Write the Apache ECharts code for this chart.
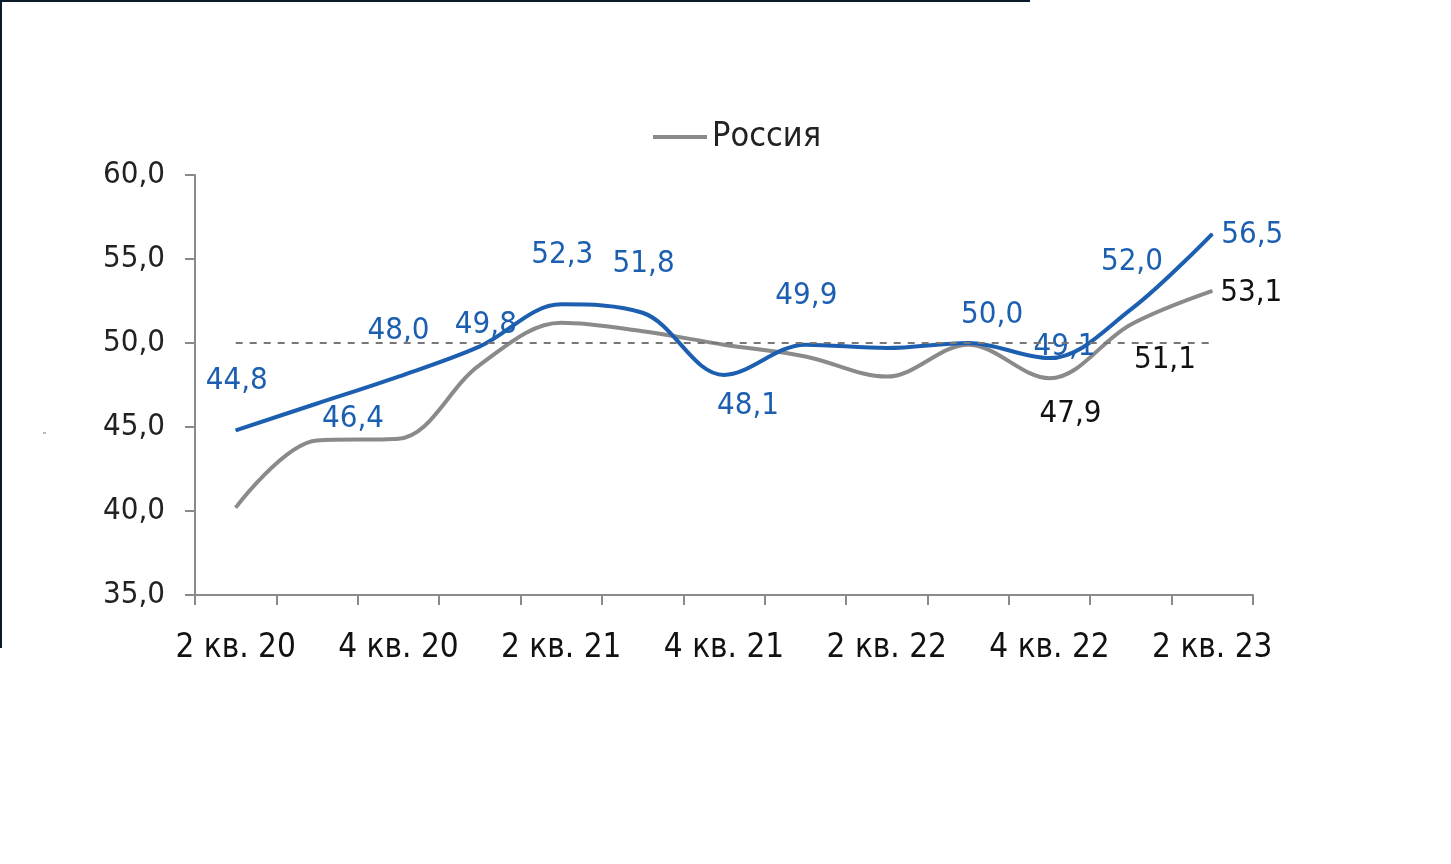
<!DOCTYPE html>
<html>
<head>
<meta charset="utf-8">
<script src="https://cdn.jsdelivr.net/npm/echarts@6/dist/echarts.min.js"></script>
<style>
html,body{margin:0;padding:0;background:#fff;}
#chart{width:1451px;height:864px;}
</style>
</head>
<body>
<div id="chart"></div>
<script>
// ---- data ----
var categories = ['2 кв. 20','3 кв. 20','4 кв. 20','1 кв. 21','2 кв. 21','3 кв. 21','4 кв. 21','1 кв. 22','2 кв. 22','3 кв. 22','4 кв. 22','1 кв. 23','2 кв. 23'];
var regionValues = [44.8, 46.4, 48.0, 49.8, 52.3, 51.8, 48.1, 49.9, 49.7, 50.0, 49.1, 52.0, 56.5];
var russiaValues = [40.2, 44.2, 44.3, 48.7, 51.2, 50.7, 49.9, 49.2, 48.0, 49.9, 47.9, 51.1, 53.1];
var russiaName = 'Россия';
var thresholdValue = 50;
var yTicks = [35, 40, 45, 50, 55, 60];

// label placement (presentation only)
var regionLabelOffsets = [[1,-49],[36,15],[0,-46],[6,-21],[1,-49],[1,-49],[24,31],[1,-49],null,[24,-28],[15,-11],[1,-47],[40,1]];
var russiaLabelOffsets = [null,null,null,null,null,null,null,null,null,null,[21,36],[34,35],[39,2]];

var FONT = '"Liberation Sans Narrow", "DejaVu Sans Condensed", "Arial Narrow", sans-serif';
var BLUE = '#1c5fb0';
var GRAY = '#8a8a8a';
function fmt(v){ return v.toFixed(1).replace('.', ','); }

function buildData(values, offsets, color){
  return values.map(function(v, i){
    var o = offsets[i];
    return {
      value: v,
      label: o ? {show: true, position: 'inside', offset: o, color: color, fontSize: 31, fontFamily: FONT, formatter: function(p){ return fmt(p.value); }} : {show: false}
    };
  });
}

var chart = echarts.init(document.getElementById('chart'), null, {renderer: 'canvas'});
chart.setOption({
  animation: false,
  backgroundColor: '#ffffff',
  grid: {left: 195, right: 198, top: 175, bottom: 269},
  legend: {
    data: [russiaName],
    left: 648, top: 115,
    icon: 'rect', itemWidth: 54, itemHeight: 4, itemGap: 10,
    textStyle: {fontSize: 34, fontFamily: FONT, color: '#222', padding: [0,0,0,0]}
  },
  graphic: [
    {type: 'rect', left: 0, top: 0, shape: {width: 1030, height: 2}, style: {fill: '#0b1b2c'}},
    {type: 'rect', left: 0, top: 0, shape: {width: 2, height: 648}, style: {fill: '#0b1b2c'}},
    {type: 'rect', left: 43, top: 432, shape: {width: 3, height: 2}, style: {fill: '#bbbbbb'}}
  ],
  xAxis: {
    type: 'category',
    data: categories,
    boundaryGap: true,
    axisLine: {lineStyle: {color: GRAY, width: 2}},
    axisTick: {show: true, interval: 0, length: 10, lineStyle: {color: GRAY, width: 2}},
    axisLabel: {interval: 1, margin: 37, fontSize: 33, fontFamily: FONT, color: '#111'},
    splitLine: {show: false}
  },
  yAxis: {
    type: 'value',
    min: yTicks[0], max: yTicks[yTicks.length-1], interval: 5,
    axisLine: {show: true, lineStyle: {color: GRAY, width: 2}},
    axisTick: {show: true, length: 10, lineStyle: {color: GRAY, width: 2}},
    axisLabel: {margin: 30, fontSize: 31, fontFamily: FONT, color: '#222', formatter: function(v){ return fmt(v); }},
    splitLine: {show: false}
  },
  series: [
    {
      name: 'Регион',
      type: 'line',
      smooth: 0.35,
      data: buildData(regionValues, regionLabelOffsets, BLUE),
      symbol: 'circle', symbolSize: 1,
      itemStyle: {color: BLUE},
      lineStyle: {color: BLUE, width: 4},
      z: 3,
      markLine: {
        silent: true,
        symbol: ['none','none'],
        label: {show: false},
        lineStyle: {color: '#777', width: 2, type: [7,7]},
        data: [[{coord: [categories[0], thresholdValue]}, {coord: [categories[categories.length-1], thresholdValue]}]]
      }
    },
    {
      name: russiaName,
      type: 'line',
      smooth: 0.35,
      data: buildData(russiaValues, russiaLabelOffsets, '#111'),
      symbol: 'circle', symbolSize: 1,
      itemStyle: {color: GRAY},
      lineStyle: {color: GRAY, width: 4},
      z: 2
    }
  ]
});
</script>
</body>
</html>
